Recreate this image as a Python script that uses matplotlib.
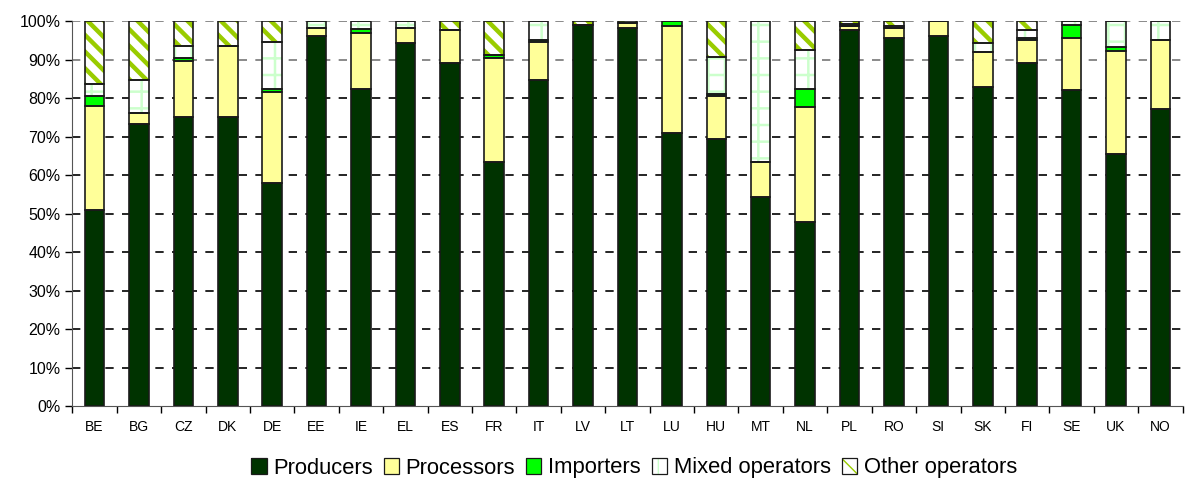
"""
Stacked share of operator types per country (100% stacked columns).
"""

import matplotlib as mpl
import matplotlib.pyplot as plt
import numpy as np
from matplotlib.patches import Patch
from matplotlib.ticker import FuncFormatter, MultipleLocator

plt.rcParams['font.family'] = ['Liberation Sans', 'DejaVu Sans']

countries = ['BE', 'BG', 'CZ', 'DK', 'DE', 'EE', 'IE', 'EL', 'ES', 'FR', 'IT', 'LV', 'LT',
             'LU', 'HU', 'MT', 'NL', 'PL', 'RO', 'SI', 'SK', 'FI', 'SE', 'UK', 'NO']

producers = [51.0, 73.2, 75.1, 75.1, 57.9, 96.2, 82.4, 94.4, 89.0, 63.5, 84.7, 99.0, 98.1,
             71.0, 69.4, 54.2, 47.8, 97.8, 95.5, 96.1, 83.0, 89.2, 82.0, 65.5, 77.1]
processors = [27.0, 3.0, 14.6, 18.4, 23.7, 2.1, 14.6, 3.9, 8.8, 27.0, 9.8, 0.0, 1.3,
              27.8, 11.2, 9.3, 29.8, 0.9, 2.8, 3.9, 9.1, 6.0, 13.7, 26.7, 18.1]
importers = [2.6, 0.0, 0.8, 0.0, 0.7, 0.0, 0.9, 0.0, 0.0, 0.7, 0.5, 0.0, 0.0,
             1.2, 0.4, 0.0, 4.8, 0.0, 0.0, 0.0, 0.0, 0.5, 3.4, 1.0, 0.0]
mixed = [3.1, 8.4, 3.1, 0.0, 12.2, 1.7, 2.1, 1.7, 0.0, 0.0, 5.0, 0.0, 0.0,
         0.0, 9.6, 36.5, 10.1, 0.5, 0.5, 0.0, 2.1, 2.1, 0.9, 6.8, 4.8]
other = [16.3, 15.4, 6.4, 6.5, 5.5, 0.0, 0.0, 0.0, 2.2, 8.8, 0.0, 1.0, 0.6,
         0.0, 9.4, 0.0, 7.5, 0.8, 1.2, 0.0, 5.8, 2.2, 0.0, 0.0, 0.0]

# name, values, face colour, hatch, hatch colour, hatch line width
series = [
    ('Producers', producers, '#003300', None, '#003300', 1.0),
    ('Processors', processors, '#FFFF99', None, '#FFFF99', 1.0),
    ('Importers', importers, '#00FF00', None, '#00FF00', 1.0),
    ('Mixed operators', mixed, 'white', '+', '#CCFFCC', 1.8),
    ('Other operators', other, 'white', '\\\\', '#99CC00', 3.2),
]

fig = plt.figure(figsize=(11.85, 4.8), dpi=100)
ax = fig.add_axes([0.061, 0.154, 0.937, 0.802])

x = np.arange(len(countries))
width = 0.44
bottom = np.zeros(len(countries))
handles = []
labels = []
for name, vals, face, hatch, hcol, hlw in series:
    vals = np.array(vals)
    with mpl.rc_context({'hatch.linewidth': hlw}):
        # fill (with hatch drawn in its own colour), then a black outline on top
        ax.bar(x, vals, width, bottom=bottom, color=face, hatch=hatch,
               edgecolor=hcol, linewidth=0, zorder=3)
        fill = Patch(facecolor=face, hatch=hatch, edgecolor=hcol, linewidth=0)
    ax.bar(x, vals, width, bottom=bottom, fill=False,
           edgecolor='#1a1a1a', linewidth=1.2, zorder=4)
    bottom += vals
    outline = Patch(facecolor='none', edgecolor='#1a1a1a', linewidth=0.9)
    handles.append((fill, outline))
    labels.append(name)

ax.set_xlim(-0.5, len(countries) - 0.5)
ax.set_ylim(0, 100)
ax.yaxis.set_major_locator(MultipleLocator(10))
ax.yaxis.set_major_formatter(FuncFormatter(lambda v, p: f'{v:.0f}%'))
ax.tick_params(axis='y', labelsize=11.5, length=5, width=1)

ax.set_xticks(x)
ax.set_xticklabels(countries, fontsize=10)
ax.set_xticks(np.arange(len(countries) + 1) - 0.5, minor=True)
ax.tick_params(axis='x', which='major', length=0, pad=10)
ax.tick_params(axis='x', which='minor', length=5, width=1)

for yv in range(10, 101, 10):
    ax.axhline(yv, color='black' if yv < 90 else '#777777', linestyle=(0, (5, 5)),
               linewidth=1.2, zorder=1)

ax.spines['top'].set_visible(False)
ax.spines['right'].set_visible(False)
ax.spines['left'].set_color('#555555')
ax.spines['bottom'].set_color('#555555')

fig.legend(handles, labels, loc='center', bbox_to_anchor=(0.535, 0.025), ncol=5,
           frameon=False, fontsize=15.8, handlelength=0.7, handleheight=0.7,
           handletextpad=0.3, columnspacing=0.5)

fig.savefig('out.png', dpi=100)
